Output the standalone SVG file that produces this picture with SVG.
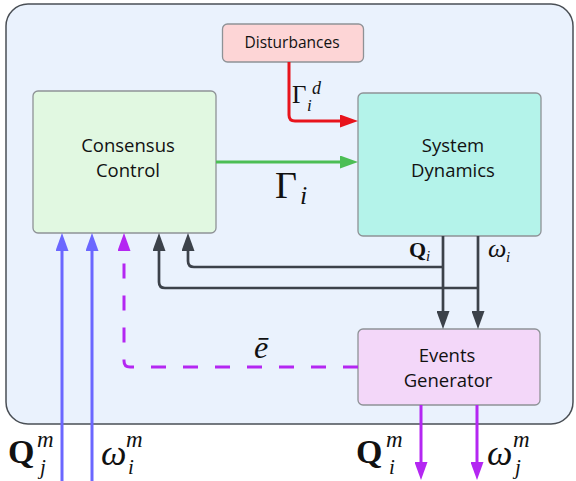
<svg xmlns="http://www.w3.org/2000/svg" width="576" height="481" viewBox="0 0 576 481">
<style>
.box{stroke:#8e9296;stroke-width:1.3}
.lbl{font-family:"Open Sans","Noto Sans",sans-serif;font-size:18.5px;fill:#111;text-anchor:middle}
.m{font-family:"Liberation Serif","DejaVu Serif",serif;fill:#111}
.it{font-style:italic}
.bf{font-weight:bold}
.ln{fill:none;stroke-width:3;stroke-linejoin:round}
.gr{stroke-width:2.7}
.sup{font-size:23px}
.sub{font-size:21px}
</style>
<defs>
<marker id="aR" markerUnits="userSpaceOnUse" markerWidth="18" markerHeight="13" refX="0" refY="6.5" orient="auto"><path d="M0,0 L18,6.5 L0,13 z" fill="#e8141c"/></marker>
<marker id="aG" markerUnits="userSpaceOnUse" markerWidth="18" markerHeight="13" refX="0" refY="6.5" orient="auto"><path d="M0,0 L18,6.5 L0,13 z" fill="#4cbe55"/></marker>
<marker id="aK" markerUnits="userSpaceOnUse" markerWidth="18" markerHeight="13" refX="0" refY="6.5" orient="auto"><path d="M0,0 L18,6.5 L0,13 z" fill="#3c424a"/></marker>
<marker id="aP" markerUnits="userSpaceOnUse" markerWidth="18" markerHeight="13" refX="0" refY="6.5" orient="auto"><path d="M0,0 L18,6.5 L0,13 z" fill="#b427f2"/></marker>
<marker id="aB" markerUnits="userSpaceOnUse" markerWidth="18" markerHeight="13" refX="0" refY="6.5" orient="auto"><path d="M0,0 L18,6.5 L0,13 z" fill="#6b67ff"/></marker>
</defs>
<rect id="frame" x="6" y="4" width="567" height="420" rx="22" fill="#eaf2fd" stroke="#4a4f55" stroke-width="1.5"/>
<g id="disturbances">
<rect class="box" x="222.5" y="24" width="141" height="38" rx="5" fill="#fdd5d6"/>
<text class="lbl" x="292" y="48" style="font-size:15.5px">Disturbances</text>
</g>
<g id="consensus">
<rect class="box" x="33" y="91" width="183" height="142" rx="5" fill="#e1f8e1"/>
<text class="lbl" x="128" y="152">Consensus</text>
<text class="lbl" x="128" y="177">Control</text>
</g>
<g id="system">
<rect class="box" x="358" y="93" width="183" height="143" rx="5" fill="#b4f3ea"/>
<text class="lbl" x="453" y="152">System</text>
<text class="lbl" x="453" y="177">Dynamics</text>
</g>
<g id="events">
<rect class="box" x="358" y="329" width="182" height="76" rx="5" fill="#f3d7f9"/>
<text class="lbl" x="447" y="362">Events</text>
<text class="lbl" x="448" y="387">Generator</text>
</g>
<g id="connectors">
<path class="ln" d="M289,62 V115 Q289,121 295,121 H340" stroke="#e8141c" marker-end="url(#aR)"/>
<path class="ln" d="M216,162 H340" stroke="#4cbe55" marker-end="url(#aG)"/>
<path class="ln gr" d="M443,236 V311" stroke="#3c424a" marker-end="url(#aK)"/>
<path class="ln gr" d="M478,236 V311" stroke="#3c424a" marker-end="url(#aK)"/>
<path class="ln gr" d="M443,267 H194 Q188,267 188,261 V251" stroke="#3c424a" marker-end="url(#aK)"/>
<path class="ln gr" d="M478,288 H165 Q159,288 159,282 V251" stroke="#3c424a" marker-end="url(#aK)"/>
<path class="ln" d="M358,367 H130 Q124,367 124,361 V251" stroke="#b427f2" stroke-dasharray="15 17" marker-end="url(#aP)"/>
<path class="ln" d="M62,481 V251" stroke="#6b67ff" marker-end="url(#aB)"/>
<path class="ln" d="M92,481 V251" stroke="#6b67ff" marker-end="url(#aB)"/>
<path class="ln" d="M421,405 V462" stroke="#b427f2" marker-end="url(#aP)"/>
<path class="ln" d="M477,405 V462" stroke="#b427f2" marker-end="url(#aP)"/>
</g>
<g id="labels">
<text class="m" x="292" y="103" style="font-size:25px">Γ</text>
<text class="m it" x="312" y="94" style="font-size:18px">d</text>
<text class="m it" x="307" y="111" style="font-size:17px">i</text>
<text class="m" x="275" y="198" style="font-size:38px">Γ</text>
<text class="m it" x="300" y="204" style="font-size:26px">i</text>
<text class="m bf" x="409" y="257" style="font-size:22px">Q</text>
<text class="m it" x="426" y="261" style="font-size:15px">i</text>
<text class="m it" x="488" y="257" style="font-size:26px">ω</text>
<text class="m it" x="506" y="262" style="font-size:15px">i</text>
<text class="m it" x="254" y="358" style="font-size:32px">ē</text>
<text class="m bf" x="8" y="463" style="font-size:34px">Q</text>
<text class="m it sup" x="37" y="447">m</text>
<text class="m it sub" x="40" y="474">j</text>
<text class="m it" x="101" y="465" style="font-size:36px">ω</text>
<text class="m it sup" x="126" y="447">m</text>
<text class="m it sub" x="128" y="474">i</text>
<text class="m bf" x="356" y="463" style="font-size:34px">Q</text>
<text class="m it sup" x="386" y="447">m</text>
<text class="m it sub" x="389" y="474">i</text>
<text class="m it" x="487" y="465" style="font-size:36px">ω</text>
<text class="m it sup" x="513" y="447">m</text>
<text class="m it sub" x="515" y="474">j</text>
</g>
</svg>
